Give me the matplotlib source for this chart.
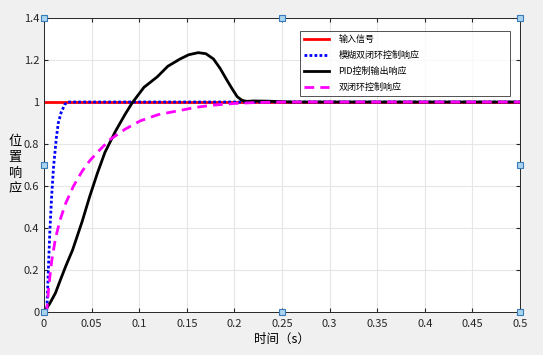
import numpy as np
import matplotlib
matplotlib.use("Agg")
import matplotlib.pyplot as plt

plt.rcParams['font.family'] = ['Noto Sans CJK SC', 'DejaVu Sans']

# input signal (unit step)
t_in = [0.0, 0.5]
y_in = [1.0, 1.0]

# fuzzy double closed loop response
t_fuzzy = [0.0, 0.003, 0.006, 0.008, 0.010, 0.013, 0.015, 0.018, 0.022, 0.025, 0.5]
y_fuzzy = [0.0, 0.01, 0.37, 0.55, 0.69, 0.83, 0.90, 0.95, 0.99, 1.0, 1.0]

# PID output response
t_pid = [0.0, 0.006, 0.012, 0.017, 0.023, 0.030, 0.040, 0.048, 0.056, 0.064, 0.075,
         0.085, 0.0925, 0.105, 0.119, 0.130, 0.143, 0.152, 0.162, 0.170, 0.178,
         0.185, 0.192, 0.198, 0.203, 0.208, 0.213, 0.220, 0.235, 0.26, 0.5]
y_pid = [0.0, 0.04, 0.09, 0.15, 0.22, 0.295, 0.43, 0.55, 0.66, 0.76, 0.86,
         0.94, 0.995, 1.07, 1.12, 1.17, 1.205, 1.225, 1.235, 1.23, 1.205,
         1.16, 1.105, 1.06, 1.025, 1.008, 1.003, 1.005, 1.004, 1.0, 1.0]

# double closed loop response
t_dbl = [0.0, 0.003, 0.005, 0.008, 0.012, 0.017, 0.023, 0.031, 0.040, 0.048, 0.056,
         0.069, 0.085, 0.101, 0.120, 0.143, 0.160, 0.178, 0.200, 0.225, 0.25, 0.5]
y_dbl = [0.0, 0.01, 0.12, 0.24, 0.35, 0.44, 0.52, 0.60, 0.67, 0.72, 0.76,
         0.82, 0.87, 0.91, 0.94, 0.96, 0.975, 0.985, 0.993, 0.998, 1.0, 1.0]

labels = ['输入信号', '模糊双闭环控制响应', 'PID控制输出响应', '双闭环控制响应']

fig = plt.figure(figsize=(5.43, 3.55), dpi=100, facecolor='#f0f0f0')
ax = fig.add_axes([44/543, 1 - 312/355, 476/543, 294/355])
ax.set_facecolor('white')

ax.plot(t_in, y_in, color='#ff0000', lw=2, label=labels[0])
ax.plot(t_fuzzy, y_fuzzy, color='#0000ff', lw=2, ls=(0, (1, 0.8)), label=labels[1])
ax.plot(t_pid, y_pid, color='black', lw=2, label=labels[2])
ax.plot(t_dbl, y_dbl, color='#ff00ff', lw=2, ls=(0, (3.5, 2.2)), label=labels[3])

ax.set_xlim(0, 0.5)
ax.set_ylim(0, 1.4)
ax.set_xticks(np.arange(0, 0.51, 0.05))
ax.set_xticklabels(['0', '0.05', '0.1', '0.15', '0.2', '0.25', '0.3', '0.35', '0.4', '0.45', '0.5'])
ax.set_yticks(np.arange(0, 1.41, 0.2))
ax.set_yticklabels(['0', '0.2', '0.4', '0.6', '0.8', '1', '1.2', '1.4'])
ax.grid(True, color='#e6e6e6', lw=0.8)
ax.tick_params(labelsize=8, colors='#262626', length=3, direction='in', top=True, right=True)
ax.tick_params(axis='x', pad=5)
for s in ax.spines.values():
    s.set_color('#262626')
    s.set_linewidth(0.7)

ax.set_xlabel('时间（s）', fontsize=9, labelpad=3)
fig.text(15/543, 1 - 165/355, '位\n置\n响\n应', fontsize=9.5, ha='center', va='center',
         linespacing=1.3)

leg = ax.legend(loc='upper left', bbox_to_anchor=(0.538, 0.743, 0.441, 0.213), mode='expand',
                fontsize=6.5, frameon=True, fancybox=False, edgecolor='#262626',
                handlelength=2.7, handletextpad=1.1, labelspacing=0.75,
                borderpad=0.45, borderaxespad=0)
leg.get_frame().set_linewidth(0.7)

# edit handles on the axes box
hx = [0, 0.25, 0.5, 0, 0.5, 0, 0.25, 0.5]
hy = [0, 0, 0, 0.7, 0.7, 1.4, 1.4, 1.4]
ax.plot(hx, hy, ls='none', marker='s', ms=5, mfc='#a8d4f0', mec='#3a7ab8', mew=0.8,
        clip_on=False, zorder=10)

fig.savefig('out.png', dpi=100, facecolor=fig.get_facecolor())
